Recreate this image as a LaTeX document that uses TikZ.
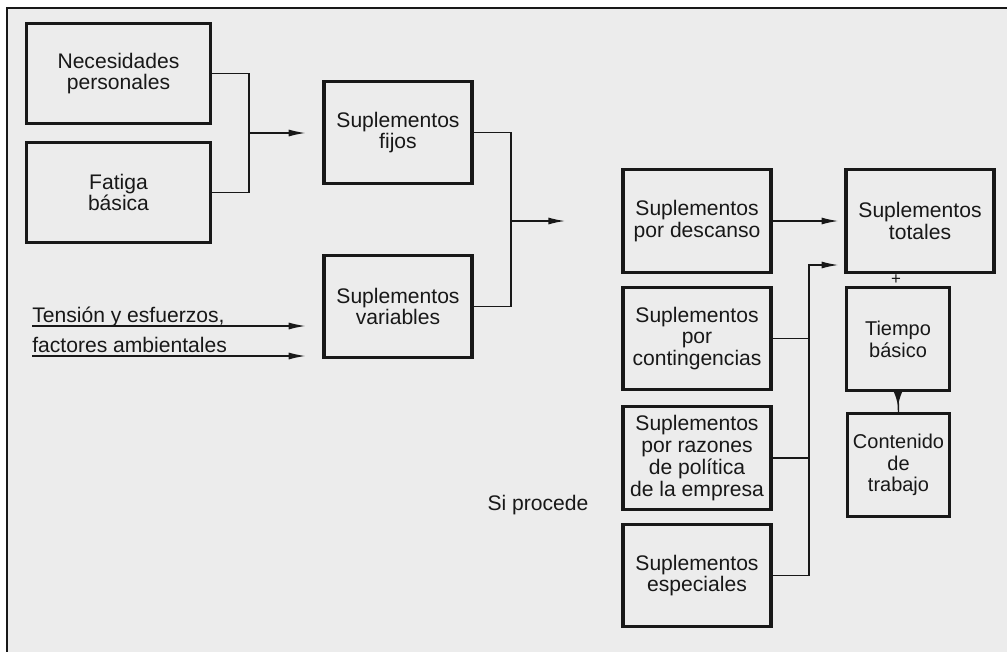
\documentclass[tikz,border=0pt]{standalone}
\usepackage{fontspec}
\setmainfont{Liberation Sans}
\usetikzlibrary{arrows.meta}
\definecolor{paper}{RGB}{236,236,236}
\definecolor{ink}{RGB}{24,24,24}

\begin{document}
\begin{tikzpicture}
  [x=.025cm,y=-.025cm,
   every node/.style={text=ink,font=\fontsize{15}{15.5}\selectfont},
   box/.style={draw=ink,line width=2.2pt,fill=paper,align=center,inner sep=0pt,
               minimum width=3.7cm,minimum height=2.57cm},
   sqbox/.style={box,minimum width=2.56cm,font=\fontsize{14.2}{15.5}\selectfont},
   wide/.style={box,minimum width=4.62cm,minimum height=2.52cm},
   lbl/.style={anchor=base west,inner sep=0pt},
   link/.style={draw=ink,line width=1pt},
   arr/.style={link,-{Latex[length=12pt,width=5pt]}}]

  % page and frame
  \useasboundingbox (0,0) rectangle (1007,652);
  \fill[paper] (7,8) rectangle (1007,652);
  \draw[ink,line width=1.4pt] (1007,8) -- (7,8) -- (7,652);

  \node[wide]  (nec) at (118.5,73.5)  {Necesidades\\personales};
  \node[wide]  (fat) at (118.5,192.5) {Fatiga\\básica};
  \node[box]   (fij) at (398,132.5)   {Suplementos\\fijos};
  \node[box]   (var) at (398,306.5)   {Suplementos\\variables};
  \node[box]   (des) at (697,221)     {Suplementos\\por descanso};
  \node[box]   (con) at (697,338.5)   {Suplementos\\por\\contingencias};
  \node[box]   (raz) at (697,458)     {Suplementos\\por razones\\de política\\de la empresa};
  \node[box]   (esp) at (697,575.5)   {Suplementos\\especiales};
  \node[box]   (tot) at (920,221)     {Suplementos\\totales};
  \node[sqbox] (tie) at (898,339)     {Tiempo\\básico};
  \node[sqbox] (cnt) at (898.5,465)   {Contenido\\de\\trabajo};

  \node[lbl] (ten) at (32,322) {Tensión y esfuerzos,};
  \node[lbl] (fac) at (32,352) {factores ambientales};
  \node (sip) at (538,505) {Si procede};
  \node[font=\fontsize{12}{12}\selectfont,inner sep=0pt] (plus) at (896,280) {+};

  \coordinate (j1) at (249,133);
  \coordinate (j2) at (511,221);
  \coordinate (bus) at (809,265);
  \coordinate (t1) at (32,326);
  \coordinate (t2) at (32,356);

  \draw[link] (nec.east) -| (j1) |- (fat.east);
  \draw[arr,shorten >=12pt] (j1) -- (j1 -| fij.west);
  \draw[link] (fij.east) -| (j2) |- (var.east);
  \draw[arr,shorten >=40pt] (j2) -- (j2 -| des.west);
  \draw[arr,shorten >=12pt] (t1) -- (t1 -| var.west);
  \draw[arr,shorten >=12pt] (t2) -- (t2 -| var.west);

  \draw[arr,shorten >=4.3pt] (des.east) -- (tot.west);
  \draw[arr,shorten >=4.3pt] (esp.east) -| (bus) -- (bus -| tot.west);
  \foreach \from in {con,raz}
    \draw[link] (\from.east) -- (\from.east -| bus);

  \draw[link] (tie.south) -- (cnt.north);
  \draw[arr,-{Latex[length=10pt,width=6pt]}] (tie.south) -- ++(0,14);

\end{tikzpicture}
\end{document}
